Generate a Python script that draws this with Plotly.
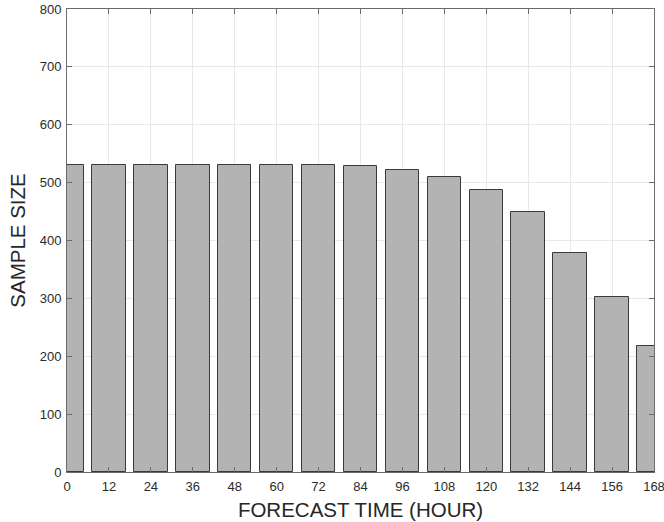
import plotly.graph_objects as go

# Forecast lead times (hours) and the number of samples available at each
forecast_hours = [0, 12, 24, 36, 48, 60, 72, 84, 96, 108, 120, 132, 144, 156, 168]
sample_size = [531, 531, 531, 531, 531, 531, 531, 529, 521, 510, 487, 449, 378, 302, 217]

x_ticks = [0, 12, 24, 36, 48, 60, 72, 84, 96, 108, 120, 132, 144, 156, 168]
y_ticks = [0, 100, 200, 300, 400, 500, 600, 700, 800]

font_family = "Liberation Sans, Arial, Helvetica, sans-serif"

fig = go.Figure()
fig.add_trace(go.Bar(
    x=forecast_hours,
    y=sample_size,
    width=9.6,
    marker=dict(color="#b3b3b3", line=dict(color="#3a3a3a", width=1)),
    showlegend=False,
))

axis_common = dict(
    showline=True,
    linecolor="#6b6b6b",
    linewidth=1,
    mirror="ticks",
    ticks="inside",
    ticklen=5,
    tickcolor="#6b6b6b",
    showgrid=True,
    gridcolor="#e8e8e8",
    gridwidth=1,
    zeroline=False,
    tickfont=dict(family=font_family, size=13, color="#2b2b2b"),
    layer="above traces",
    automargin=False,
    ticklabeloverflow="allow",
    ticklabelstandoff=2,
)

fig.update_xaxes(
    range=[0, 168],
    tickvals=x_ticks,
    ticktext=[str(v) for v in x_ticks],
    title=dict(text="FORECAST TIME (HOUR)", font=dict(family=font_family, size=20.5, color="#262626"), standoff=10),
    **axis_common,
)
fig.update_yaxes(
    range=[0, 800],
    tickvals=y_ticks,
    ticktext=[str(v) for v in y_ticks],
    title=dict(text="SAMPLE SIZE", font=dict(family=font_family, size=20.5, color="#262626"), standoff=8),
    **axis_common,
)

fig.update_layout(
    width=664,
    height=522,
    margin=dict(l=67, r=10, t=9, b=50),
    plot_bgcolor="white",
    paper_bgcolor="white",
    bargap=0,
)

fig.write_html("out.html")
